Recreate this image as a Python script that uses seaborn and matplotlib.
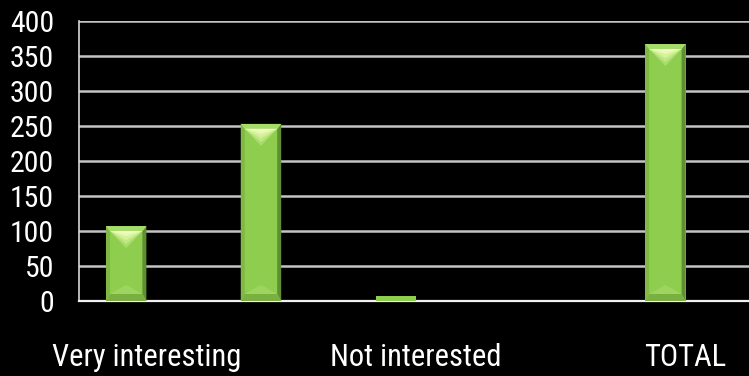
import numpy as np
import pandas as pd
import matplotlib
matplotlib.use("Agg")
import matplotlib.pyplot as plt
from matplotlib.patches import Polygon
import seaborn as sns

# Survey answers (counts)
categories = ["Very interesting", "Interesting", "Not interested", "No opinion", "TOTAL"]
responses = [107, 253, 7, 0, 367]
series_names = ["Responses", "Previous survey"]
y_ticks = [0, 50, 100, 150, 200, 250, 300, 350, 400]

sns.set_theme(style="dark")
plt.rcParams["font.family"] = ["Roboto Condensed", "DejaVu Sans"]
plt.rcParams["font.stretch"] = "condensed"

df = pd.DataFrame({"answer": categories, "count": responses, "series": series_names[0]})

fig = plt.figure(figsize=(7.49, 3.76), dpi=100, facecolor="black")
ax = fig.add_axes([79 / 749, 75 / 376, 674 / 749, 280 / 376])
ax.set_facecolor("black")

sns.barplot(data=df, x="answer", y="count", hue="series", hue_order=series_names,
            order=categories, palette=["#8FCD4F", "#4F81BD"], saturation=1,
            width=0.6, dodge=True, edgecolor="none", linewidth=0, legend=False,
            ax=ax, zorder=3)

ax.set_xlim(-0.5, len(categories) - 0.5)
ax.set_ylim(0, 400)
ax.set_yticks(y_ticks)
ax.set_xlabel("")
ax.set_ylabel("")

# Horizontal grid and axis lines
ax.set_axisbelow(True)
ax.yaxis.grid(True, color="#C4C4C4", linewidth=1.8)
ax.xaxis.grid(False)
for side in ("top", "right"):
    ax.spines[side].set_visible(False)
ax.spines["left"].set_color("#D8D8D8")
ax.spines["left"].set_linewidth(1.2)
ax.spines["bottom"].set_color("#F0F0F0")
ax.spines["bottom"].set_linewidth(1.6)

# Category labels: every other one, centred under the categories
ax.set_xticks(range(len(categories)))
ax.set_xticklabels([c if i % 2 == 0 else "" for i, c in enumerate(categories)])
ax.tick_params(axis="x", which="major", length=0, pad=30, labelsize=22, labelcolor="white")
ax.set_xticks(np.arange(-0.5, len(categories), 1.0), minor=True)
ax.tick_params(axis="x", which="minor", length=9, width=1.2, color="#D8D8D8", direction="out")
ax.tick_params(axis="y", length=5, width=1.8, color="#C4C4C4", direction="out",
               pad=13, labelsize=21.5, labelcolor="white")

# Bevel shading on each bar, built from the bar's own geometry
sx = (ax.transData.transform((1, 0))[0] - ax.transData.transform((0, 0))[0])
sy = (ax.transData.transform((0, 1))[1] - ax.transData.transform((0, 0))[1])


def quad(pts, color, z, alpha=1.0):
    ax.add_patch(Polygon(pts, closed=True, facecolor=color, edgecolor="none",
                         alpha=alpha, zorder=z))


for bar in list(ax.patches):
    h = bar.get_height()
    if not np.isfinite(h) or h * sy < 30:
        continue
    x0, y0, w = bar.get_x(), bar.get_y(), bar.get_width()
    x1, y1 = x0 + w, y0 + h
    xc = (x0 + x1) / 2
    b = 4 / sx    # side bevel width
    bt = 5 / sy   # top bevel depth
    bb = 7 / sy   # bottom bevel depth
    px = 1 / sy
    # sides
    quad([(x0, y0), (x0 + b, y0 + bb), (x0 + b, y1 - bt), (x0, y1)], "#80B845", 3.2)
    quad([(x1, y0), (x1 - b, y0 + bb), (x1 - b, y1 - bt), (x1, y1)], "#5F8F32", 3.2)
    # bottom bevel and its faint upward glow
    quad([(x0, y0), (x1, y0), (x1 - b, y0 + bb), (x0 + b, y0 + bb)], "#7AB040", 3.2)
    quad([(x0 + b, y0 + bb), (x1 - b, y0 + bb), (xc, y0 + 16 * px)], "#A2D866", 3.3, 0.8)
    # top bevel
    quad([(x0, y1), (x1, y1), (x1 - b, y1 - bt), (x0 + b, y1 - bt)], "#A6DC6A", 3.2)
    # highlight triangle, brightest along its upper edge
    for depth, color in [(22, "#A8DD6C"), (18, "#BFE884"), (14, "#D5F19A"),
                         (10, "#E8F9B2"), (7, "#F4FCC8")]:
        quad([(x0 + b, y1 - bt), (x1 - b, y1 - bt), (xc, y1 - depth * px)], color, 3.4)

fig.savefig("out.png", dpi=100, facecolor="black")
